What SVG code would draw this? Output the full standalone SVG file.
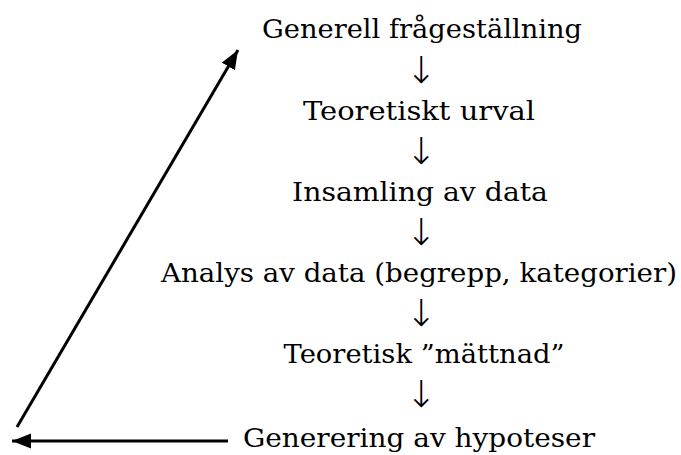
<svg xmlns="http://www.w3.org/2000/svg" width="681" height="455" viewBox="0 0 681 455">
<style>
.t{font-family:"DejaVu Serif","Liberation Serif",serif;font-size:26px;fill:#000;text-anchor:middle}
.a{font-family:"DejaVu Sans","Liberation Sans",sans-serif;font-size:37px;font-weight:200;fill:#000;text-anchor:middle}
.c{stroke:#000;stroke-width:3;fill:none}
</style>
<defs>
<marker id="ah" markerUnits="userSpaceOnUse" markerWidth="22" markerHeight="18" refX="19" refY="7.5" orient="auto">
<path d="M0,0 L19,7.5 L0,15 Z" fill="#000"/>
</marker>
</defs>
<rect width="681" height="455" fill="#fff"/>
<g id="n1"><text class="t" x="422" y="38" textLength="320" lengthAdjust="spacingAndGlyphs">Generell frågeställning</text></g>
<g id="a1"><text class="a" x="421" y="83">↓</text></g>
<g id="n2"><text class="t" x="419" y="120" textLength="232" lengthAdjust="spacingAndGlyphs">Teoretiskt urval</text></g>
<g id="a2"><text class="a" x="421" y="164">↓</text></g>
<g id="n3"><text class="t" x="420" y="201" textLength="256" lengthAdjust="spacingAndGlyphs">Insamling av data</text></g>
<g id="a3"><text class="a" x="421" y="245">↓</text></g>
<g id="n4"><text class="t" x="419" y="282" textLength="516" lengthAdjust="spacingAndGlyphs">Analys av data (begrepp, kategorier)</text></g>
<g id="a4"><text class="a" x="421" y="326">↓</text></g>
<g id="n5"><text class="t" x="424" y="363" textLength="281" lengthAdjust="spacingAndGlyphs">Teoretisk ”mättnad”</text></g>
<g id="a5"><text class="a" x="421" y="407">↓</text></g>
<g id="n6"><text class="t" x="419" y="447" textLength="352" lengthAdjust="spacingAndGlyphs">Generering av hypoteser</text></g>
<g id="connectors">
<line class="c" x1="228" y1="441" x2="12" y2="441" marker-end="url(#ah)"/>
<line class="c" x1="17" y1="427" x2="238" y2="50" marker-end="url(#ah)"/>
</g>
</svg>
